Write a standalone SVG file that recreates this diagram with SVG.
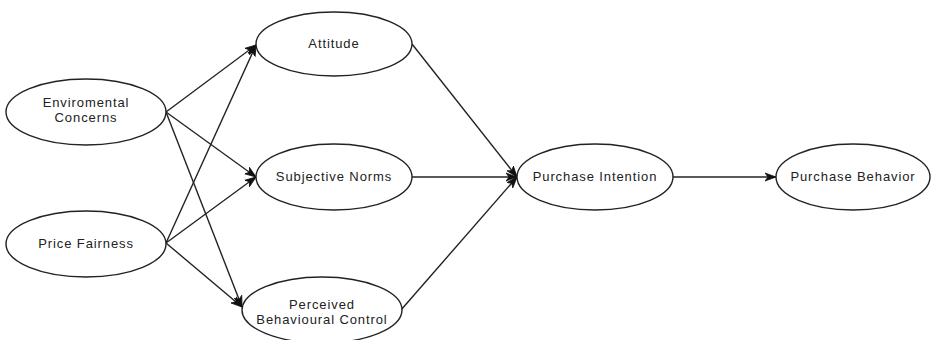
<svg xmlns="http://www.w3.org/2000/svg" width="932" height="340" viewBox="0 0 932 340">
  <defs>
    <marker id="arrow" markerUnits="userSpaceOnUse" markerWidth="12" markerHeight="10" viewBox="0 0 12 10" refX="11" refY="5" orient="auto">
      <path d="M0,1 L11,5 L0,9 L3,5 Z" fill="#111" stroke="#111" stroke-width="0.8" stroke-linejoin="miter"/>
    </marker>
    <style>
      .node ellipse { fill: #ffffff; stroke: #222222; stroke-width: 1.4; }
      .node text { font-family: "Liberation Sans", Arial, sans-serif; font-size: 13px; fill: #222222; text-anchor: middle; letter-spacing: 0.9px; }
      .edge { fill: none; stroke: #222222; stroke-width: 1.4; marker-end: url(#arrow); }
    </style>
  </defs>

  <rect width="932" height="340" fill="#ffffff"/>

  <g id="connectors">
    <line class="edge" x1="166" y1="112" x2="256" y2="45"/>
    <line class="edge" x1="166" y1="112" x2="256" y2="177"/>
    <line class="edge" x1="166" y1="112" x2="242" y2="307"/>
    <line class="edge" x1="166" y1="243" x2="256" y2="45"/>
    <line class="edge" x1="166" y1="243" x2="256" y2="177"/>
    <line class="edge" x1="166" y1="243" x2="242" y2="307"/>
    <line class="edge" x1="412" y1="44" x2="517" y2="177"/>
    <line class="edge" x1="412" y1="177" x2="517" y2="177"/>
    <line class="edge" x1="401" y1="310" x2="517" y2="177"/>
    <line class="edge" x1="673" y1="177" x2="776" y2="177"/>
  </g>

  <g id="enviromental-concerns" class="node">
    <ellipse cx="86" cy="112" rx="80" ry="33"/>
    <text x="86" y="107">Enviromental</text>
    <text x="86" y="122">Concerns</text>
  </g>

  <g id="price-fairness" class="node">
    <ellipse cx="86" cy="244" rx="80" ry="33"/>
    <text x="86" y="248">Price Fairness</text>
  </g>

  <g id="attitude" class="node">
    <ellipse cx="334" cy="44" rx="78" ry="32"/>
    <text x="334" y="48">Attitude</text>
  </g>

  <g id="subjective-norms" class="node">
    <ellipse cx="334" cy="177" rx="78" ry="33"/>
    <text x="334" y="181">Subjective Norms</text>
  </g>

  <g id="perceived-behavioural-control" class="node">
    <ellipse cx="322" cy="310" rx="80" ry="33"/>
    <text x="322" y="309">Perceived</text>
    <text x="322" y="324">Behavioural Control</text>
  </g>

  <g id="purchase-intention" class="node">
    <ellipse cx="595" cy="177" rx="78" ry="33"/>
    <text x="595" y="181">Purchase Intention</text>
  </g>

  <g id="purchase-behavior" class="node">
    <ellipse cx="853" cy="177" rx="77" ry="33"/>
    <text x="853" y="181">Purchase Behavior</text>
  </g>
</svg>
